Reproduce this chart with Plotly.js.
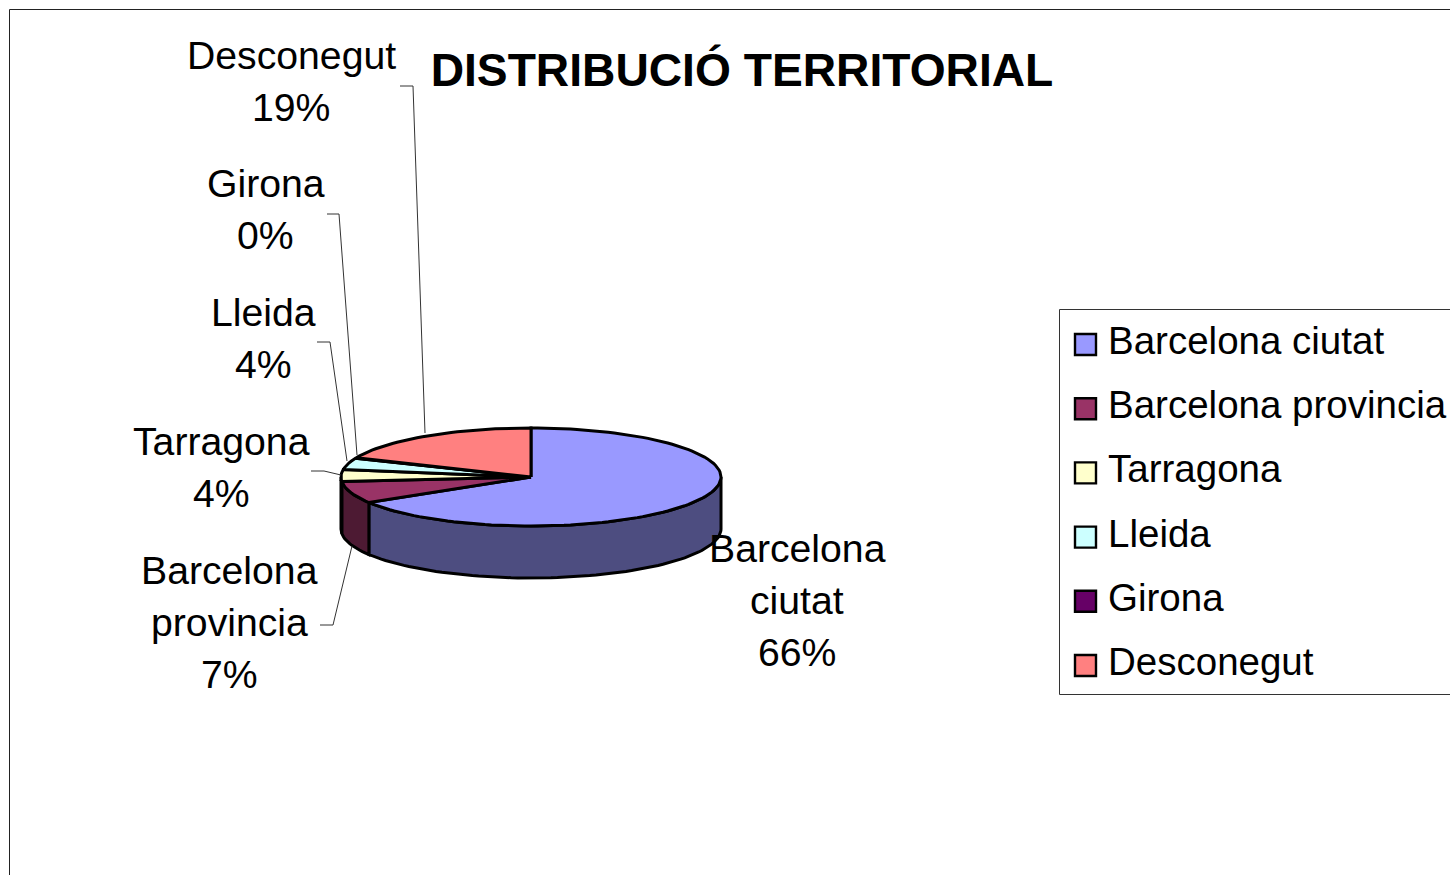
<!DOCTYPE html>
<html>
<head>
<meta charset="utf-8">
<script src="https://cdn.plot.ly/plotly-3.0.1.min.js"></script>
<style>html,body{margin:0;padding:0;background:#fff;overflow:hidden}#chart{width:1450px;height:875px}</style>
</head>
<body>
<div id="chart"></div>
<script>
const categories = ['Barcelona ciutat','Barcelona provincia','Tarragona','Lleida','Girona','Desconegut'];
const values = [66.4, 7.3, 3.9, 3.8, 0.2, 18.6];
const topColors = ['#9999ff','#993366','#ffffcc','#ccffff','#660066','#ff8080'];
const wallColors = ['#4d4d80','#4d1a33','#80801a','#668080','#330033','#804040'];
const labelLines = [['Barcelona','ciutat'],['Barcelona','provincia'],['Tarragona'],['Lleida'],['Girona'],['Desconegut']];
const labelX = [797,229,221,263,265.5,291];
const labelTopY = [548,570,441,312,183.5,55];
const leaderX = [null,[320,333,352],[311,324,341],[317,330,347],[327,339,357],[400,413,425]];
const leaderY = [null,[625,625,546],[471,471,475],[342,342,461],[214,214,455],[86,86,433]];
const titleText = 'DISTRIBUCIÓ TERRITORIAL';

const cx = 531, cy = 477, rx = 190, ry = 49, depth = 52, step = 2;
const FONT = 'Liberation Sans, Arial, sans-serif';
const rad = d => d*Math.PI/180;
const px = t => cx + rx*Math.sin(rad(t));
const py = (t,dz=0) => cy - ry*Math.cos(rad(t)) + dz;
function arc(a,b){const r=[];for(let t=a;t<b;t+=step)r.push(t);r.push(b);return r;}

const total = values.reduce((a,b)=>a+b,0);
const traces = [];
const tops = [];
let acc = 0;
values.forEach((v,i)=>{
  const a = acc/total*360, b = (acc+v)/total*360; acc += v;
  const wa = Math.max(a,90), wb = Math.min(b,270);
  if (wb > wa) {
    const ts = arc(wa,wb);
    traces.push({type:'scatter',mode:'lines',fill:'toself',fillcolor:wallColors[i],
      x:ts.map(px).concat(ts.slice().reverse().map(px)).concat([px(ts[0])]),
      y:ts.map(t=>py(t)).concat(ts.slice().reverse().map(t=>py(t,depth))).concat([py(ts[0])]),
      line:{color:'#000',width:3,shape:'linear'},hoverinfo:'skip',showlegend:false,name:categories[i]});
  }
  const ts = arc(a,b);
  tops.push({type:'scatter',mode:'lines',fill:'toself',fillcolor:topColors[i],
    x:[cx].concat(ts.map(px)).concat([cx]),
    y:[cy].concat(ts.map(t=>py(t))).concat([cy]),
    line:{color:'#000',width:3},name:categories[i],showlegend:false,
    hovertemplate:categories[i]+': '+Math.round(v)+'%<extra></extra>'});
});

const legendSwatchY = categories.map((c,i)=>344.5+i*64.2);
const legendTextY = categories.map((c,i)=>340.5+i*64.2);
traces.push(...tops);
traces.push({type:'scatter',mode:'markers',x:categories.map(()=>1085.5),y:legendSwatchY,
  marker:{symbol:'square',size:21,color:topColors,line:{color:'#000',width:2.4}},
  hoverinfo:'skip',showlegend:false});

const annotations = [];
categories.forEach((c,i)=>{
  const lines = labelLines[i].concat([Math.round(values[i]/total*100)+'%']);
  lines.forEach((t,j)=>annotations.push({x:labelX[i],y:labelTopY[i]+j*52,text:t,showarrow:false,
    xref:'x',yref:'y',xanchor:'center',yanchor:'middle',font:{family:FONT,size:39.2,color:'#000'}}));
  annotations.push({x:1106,y:legendTextY[i],text:c,showarrow:false,xref:'x',yref:'y',
    xanchor:'left',yanchor:'middle',font:{family:FONT,size:38.5,color:'#000'}});
});

const shapes = [
  {type:'path',path:'M9.5,875 L9.5,9.5 L1450,9.5',line:{color:'#222',width:1},layer:'below'},
  {type:'path',path:'M1450,309.5 L1059.5,309.5 L1059.5,694.5 L1450,694.5',line:{color:'#333',width:1},layer:'below'}
];
leaderX.forEach((xs,i)=>{
  if(!xs) return;
  shapes.push({type:'path',path:xs.map((x,k)=>(k?'L':'M')+x+','+leaderY[i][k]).join(' '),
    line:{color:'#333',width:1},layer:'above'});
});

const layout = {
  width:1450,height:875,margin:{l:0,r:0,t:0,b:0,pad:0},
  paper_bgcolor:'#fff',plot_bgcolor:'#fff',showlegend:false,hovermode:'closest',
  title:{text:titleText,x:742/1450,xref:'paper',xanchor:'center',y:1-70/875,yref:'paper',yanchor:'middle',
    font:{family:FONT,size:46.2,color:'#000',weight:700}},
  xaxis:{range:[0,1450],visible:false,fixedrange:true},
  yaxis:{range:[875,0],visible:false,fixedrange:true},
  shapes,annotations
};
Plotly.newPlot('chart',traces,layout,{displayModeBar:false,responsive:false});
</script>
</body>
</html>
